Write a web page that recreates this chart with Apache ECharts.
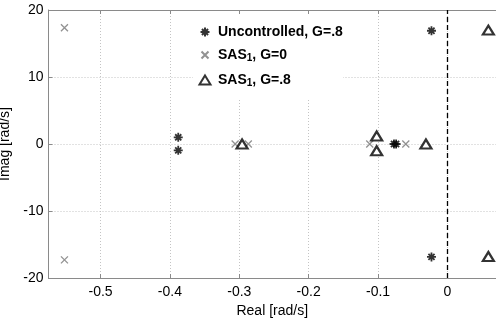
<!DOCTYPE html>
<html><head><meta charset="utf-8">
<script src="https://cdn.jsdelivr.net/npm/echarts@6/dist/echarts.min.js"></script>
<style>html,body{margin:0;padding:0;background:#fff}#c{width:496px;height:320px}</style>
</head><body><div id="c"></div>
<script>
// Data (real, imag)
const uncontrolled = [[-0.388, 1.0], [-0.388, -0.95], [-0.077, 0], [-0.074, 0], [-0.023, 16.9], [-0.023, -16.85]];
const sas1G0 = [[-0.552, 17.35], [-0.552, -17.3], [-0.306, 0], [-0.287, 0], [-0.112, 0], [-0.060, 0]];
const sas1G08 = [[-0.296, 0], [-0.102, 1.2], [-0.102, -1.0], [-0.031, 0], [0.059, 17.0], [0.059, -16.8]];
const seriesNames = ['Uncontrolled, G=.8', 'SAS1, G=0', 'SAS1, G=.8'];
const xTicks = [-0.5, -0.4, -0.3, -0.2, -0.1, 0];
const yTicks = [-20, -10, 0, 10, 20];

const FONT = 'Liberation Sans';
const axisGray = '#8a8a8a';
const starPath = 'path://M5,0L5,10M0,5L10,5M1.6,1.6L8.4,8.4M1.6,8.4L8.4,1.6';
const xPath = 'path://M0,0L10,10M0,10L10,0';

const chart = echarts.init(document.getElementById('c'), null, {renderer: 'canvas'});
const legendRich = {
  b: {fontFamily: FONT, fontSize: 14, fontWeight: 'bold', color: '#000', lineHeight: 17},
  s: {fontFamily: FONT, fontSize: 10, fontWeight: 'bold', color: '#000', lineHeight: 1, verticalAlign: 'bottom'}
};
function legendFmt(name) {
  if (name.indexOf('SAS1') === 0) return '{b|SAS}{s|1}{b|' + name.slice(4) + '}';
  return '{b|' + name + '}';
}
function mkLegend(name, top, w, h) {
  return {
    data: [name], left: 204 - w / 2, top: top, padding: 0, itemWidth: w, itemHeight: h, itemGap: 0,
    selectedMode: false, z: 10,
    textStyle: {rich: legendRich, padding: [0, 0, 0, 13 - w / 2 - 5]},
    formatter: legendFmt
  };
}
chart.setOption({
  animation: false,
  backgroundColor: '#fff',
  textStyle: {fontFamily: FONT},
  grid: {left: 48.5, right: 0, top: 10, bottom: 42, containLabel: false, outerBoundsMode: 'none'},
  graphic: [{type: 'rect', shape: {x: 193, y: 14, width: 150, height: 86}, style: {fill: '#fff'}, z: 5}],
  legend: [mkLegend(seriesNames[0], 25, 9, 9), mkLegend(seriesNames[1], 48, 7, 7), mkLegend(seriesNames[2], 73, 11, 9)],
  xAxis: [{
    type: 'value', min: -0.575, max: 0.07, splitNumber: 6,
    name: 'Real [rad/s]', nameLocation: 'middle', nameGap: 22,
    nameTextStyle: {fontFamily: FONT, fontSize: 14, color: '#000'},
    axisLine: {show: true, onZero: false, lineStyle: {color: axisGray, width: 1}},
    axisTick: {show: true, inside: true, length: 4, lineStyle: {color: axisGray}},
    axisLabel: {fontFamily: FONT, fontSize: 14, color: '#000', margin: 7, showMinLabel: false, showMaxLabel: false,
      formatter: v => (xTicks.some(t => Math.abs(t - v) < 1e-9) ? (Math.abs(v) < 1e-9 ? '0' : String(+v.toFixed(1))) : '')},
    splitLine: {show: true, lineStyle: {color: '#c4c4c4', type: [1, 2], width: 1}}
  }, {
    type: 'value', position: 'top', min: -0.575, max: 0.07, splitNumber: 6,
    axisLine: {show: true, onZero: false, lineStyle: {color: axisGray, width: 1}},
    axisTick: {show: true, inside: true, length: 4, lineStyle: {color: axisGray}},
    axisLabel: {show: false}, splitLine: {show: false}
  }],
  yAxis: [{
    type: 'value', min: -20, max: 20, interval: 10,
    name: 'Imag [rad/s]', nameLocation: 'middle', nameGap: 28, nameRotate: 90,
    nameTextStyle: {fontFamily: FONT, fontSize: 14, color: '#000'},
    axisLine: {show: true, onZero: false, lineStyle: {color: axisGray, width: 1}},
    axisTick: {show: true, inside: true, length: 4, lineStyle: {color: axisGray}},
    axisLabel: {fontFamily: FONT, fontSize: 14, color: '#000', margin: 5,
      formatter: v => (yTicks.indexOf(v) >= 0 ? String(v) : '')},
    splitLine: {show: true, lineStyle: {color: '#c4c4c4', type: [1, 2], width: 1}}
  }],
  series: [{
    name: seriesNames[0], type: 'scatter', data: uncontrolled, symbol: starPath, symbolSize: 9,
    itemStyle: {color: 'transparent', borderColor: '#000', borderWidth: 1.8}, z: 3,
    markLine: {silent: true, symbol: 'none', label: {show: false},
      lineStyle: {color: '#000', type: [5, 3], width: 1.3}, data: [{xAxis: 0}]}
  }, {
    name: seriesNames[1], type: 'scatter', data: sas1G0, symbol: xPath, symbolSize: 7,
    itemStyle: {color: 'transparent', borderColor: '#777', borderWidth: 1.3}, z: 2
  }, {
    name: seriesNames[2], type: 'scatter', data: sas1G08, symbol: 'triangle', symbolSize: [11, 9],
    itemStyle: {color: '#fff', borderColor: '#000', borderWidth: 2.2}, z: 3
  }]
});
</script></body></html>
